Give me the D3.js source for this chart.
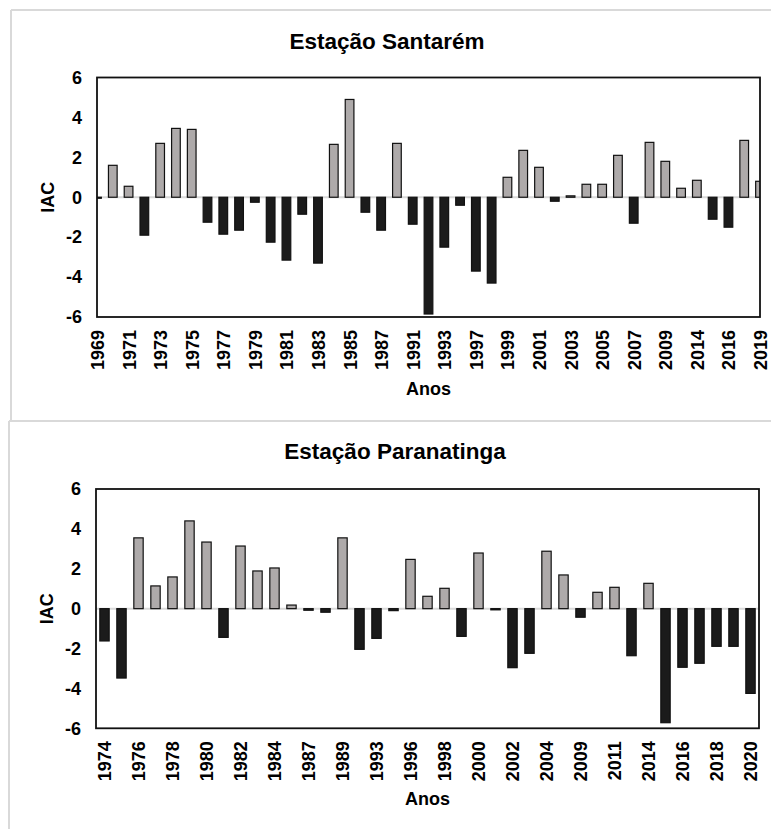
<!DOCTYPE html>
<html>
<head>
<meta charset="utf-8">
<script src="https://cdn.jsdelivr.net/npm/d3@7"></script>
<style>
  html, body { margin: 0; padding: 0; background: #ffffff; }
  svg { display: block; font-family: "Liberation Sans", Arial, sans-serif; }
</style>
</head>
<body>
<svg id="fig" width="771" height="829"></svg>
<script>
// Índice de Anomalia de Chuva (IAC) por ano — Estação Santarém
const santaremYears = ["1969","1970","1971","1972","1973","1974","1975","1976","1977","1978",
  "1979","1980","1981","1982","1983","1984","1985","1986","1987","1989","1991","1992","1993",
  "1995","1997","1998","1999","2000","2001","2002","2003","2004","2005","2006","2007","2008",
  "2009","2012","2014","2015","2016","2018","2019"];
const santaremIAC = [-0.05, 1.6, 0.55, -1.9, 2.7, 3.45, 3.4, -1.25, -1.85, -1.65,
  -0.25, -2.25, -3.15, -0.85, -3.3, 2.65, 4.9, -0.75, -1.65, 2.7, -1.35, -5.85, -2.5,
  -0.4, -3.7, -4.3, 1.0, 2.35, 1.5, -0.2, 0.07, 0.65, 0.65, 2.1, -1.3, 2.75,
  1.8, 0.45, 0.85, -1.1, -1.5, 2.85, 0.8];

// Índice de Anomalia de Chuva (IAC) por ano — Estação Paranatinga
const paranatingaYears = ["1974","1975","1976","1977","1978","1979","1980","1981","1982","1983",
  "1984","1986","1987","1988","1989","1991","1993","1995","1996","1997","1998","1999","2000",
  "2001","2002","2003","2004","2007","2009","2010","2011","2013","2014","2015","2016","2017",
  "2018","2019","2020"];
const paranatingaIAC = [-1.62, -3.48, 3.55, 1.14, 1.59, 4.4, 3.34, -1.44, 3.14, 1.89,
  2.04, 0.18, -0.08, -0.18, 3.55, -2.04, -1.49, -0.1, 2.47, 0.62, 1.02, -1.39, 2.79,
  -0.06, -2.96, -2.24, 2.88, 1.69, -0.43, 0.82, 1.07, -2.36, 1.27, -5.72, -2.94, -2.74,
  -1.89, -1.89, -4.25];

const yTicks = [-6, -4, -2, 0, 2, 4, 6];
const yDomain = [-6, 6];

const POS_FILL = "#aeaaaa";
const NEG_FILL = "#1b1b1b";
const PANEL_LINE = "#d9d9d9";

const svg = d3.select("#fig");

// Light panel frames around each chart
function panelFrame(x, y, bottom) {
  svg.append("line").attr("x1", x).attr("x2", 771).attr("y1", y).attr("y2", y)
    .attr("stroke", PANEL_LINE).attr("stroke-width", 2);
  svg.append("line").attr("x1", x).attr("x2", x).attr("y1", y).attr("y2", bottom)
    .attr("stroke", PANEL_LINE).attr("stroke-width", 2);
}
panelFrame(11, 10, 420);
panelFrame(9, 421, 829);

let clipId = 0;
function drawChart(cfg) {
  const { years, values, left, right, top, bottom, title, titleX, titleY, onTicks, anosY } = cfg;

  let x, bw;
  if (onTicks) {
    // categories sit on the plot edges (first and last bars are cut in half)
    x = d3.scalePoint().domain(years).range([left, right]).padding(0);
    bw = x.step() * 0.55;
  } else {
    x = d3.scaleBand().domain(years).range([left, right]).paddingInner(0.45).paddingOuter(0.225);
    bw = x.bandwidth();
  }
  const cx = d => onTicks ? x(d) : x(d) + x.bandwidth() / 2;
  const y = d3.scaleLinear().domain(yDomain).range([bottom, top]);

  const g = svg.append("g");
  const id = "plotclip" + (clipId++);
  g.append("clipPath").attr("id", id)
    .append("rect").attr("x", left).attr("y", top).attr("width", right - left).attr("height", bottom - top);

  // zero reference line
  g.append("line")
    .attr("x1", left).attr("x2", right).attr("y1", y(0)).attr("y2", y(0))
    .attr("stroke", PANEL_LINE).attr("stroke-width", 2);

  // bars
  const data = years.map((yr, i) => ({ yr, v: values[i] }));
  g.append("g").attr("clip-path", `url(#${id})`)
    .selectAll("rect").data(data).join("rect")
    .attr("x", d => cx(d.yr) - bw / 2)
    .attr("width", bw)
    .attr("y", d => y(Math.max(0, d.v)))
    .attr("height", d => Math.abs(y(d.v) - y(0)))
    .attr("fill", d => d.v >= 0 ? POS_FILL : NEG_FILL)
    .attr("stroke", "#111")
    .attr("stroke-width", 1.2);

  // plot frame
  g.append("rect")
    .attr("x", left).attr("y", top).attr("width", right - left).attr("height", bottom - top)
    .attr("fill", "none").attr("stroke", "#111").attr("stroke-width", 1.8);

  // y axis
  const ya = g.append("g").attr("transform", `translate(${left},0)`)
    .call(d3.axisLeft(y).tickValues(yTicks).tickSize(0).tickPadding(15).tickFormat(d => String(d)));
  ya.select(".domain").remove();
  ya.selectAll("text").attr("font-size", 18).attr("font-weight", "bold")
    .attr("font-family", "Liberation Sans, Arial, sans-serif").attr("fill", "#000");

  // x axis: every other year, rotated labels
  const xa = g.append("g").attr("transform", `translate(0,${bottom})`)
    .call(d3.axisBottom(x).tickValues(years.filter((d, i) => i % 2 === 0)).tickSize(0));
  xa.select(".domain").remove();
  if (!onTicks) xa.selectAll(".tick").attr("transform", d => `translate(${cx(d)},0)`);
  xa.selectAll("text")
    .attr("transform", "rotate(-90)")
    .attr("x", -13).attr("y", 0).attr("dy", "0.36em")
    .attr("text-anchor", "end")
    .attr("font-size", 18).attr("font-weight", "bold")
    .attr("font-family", "Liberation Sans, Arial, sans-serif").attr("fill", "#000");

  // axis titles
  g.append("text")
    .attr("transform", `translate(${left - 43},${(top + bottom) / 2}) rotate(-90)`)
    .attr("text-anchor", "middle")
    .attr("font-size", 18).attr("font-weight", "bold").text("IAC");
  g.append("text")
    .attr("x", (left + right) / 2).attr("y", anosY)
    .attr("text-anchor", "middle")
    .attr("font-size", 18).attr("font-weight", "bold").text("Anos");

  // chart title
  g.append("text")
    .attr("x", titleX).attr("y", titleY)
    .attr("text-anchor", "middle")
    .attr("font-size", 22.5).attr("font-weight", "bold")
    .text(title);
}

drawChart({
  years: santaremYears, values: santaremIAC,
  left: 97, right: 760, top: 77.5, bottom: 317,
  title: "Estação Santarém", titleX: 387, titleY: 49,
  onTicks: true, anosY: 395
});

drawChart({
  years: paranatingaYears, values: paranatingaIAC,
  left: 96, right: 759, top: 489, bottom: 728.3,
  title: "Estação Paranatinga", titleX: 395, titleY: 458.5,
  onTicks: false, anosY: 805
});
</script>
</body>
</html>
